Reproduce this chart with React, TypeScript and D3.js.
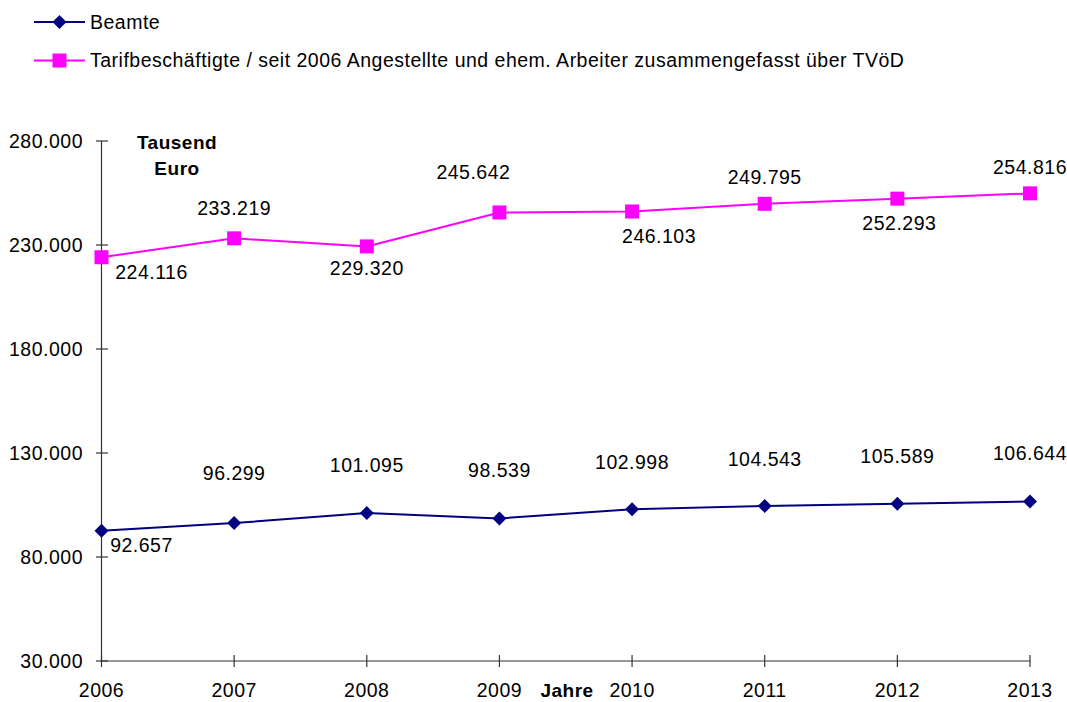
import * as d3 from 'd3'

const years = ['2006', '2007', '2008', '2009', '2010', '2011', '2012', '2013']
const beamte = [92657, 96299, 101095, 98539, 102998, 104543, 105589, 106644]
const tarif = [224116, 233219, 229320, 245642, 246103, 249795, 252293, 254816]
const yTicks = [30000, 80000, 130000, 180000, 230000, 280000]

const seriesNames = [
  'Beamte',
  'Tarifbeschäftigte / seit 2006 Angestellte und ehem. Arbeiter zusammengefasst über TVöD',
]

// label offsets (px) relative to the point, as Excel placed them
const beamteLabelOffsets: [number, number][] = [
  [40, 15], [0, -50], [0, -48], [0, -48], [0, -47], [0, -47], [0, -48], [0, -48],
]
const tarifLabelOffsets: [number, number][] = [
  [50, 15], [0, -30], [0, 22], [-26, -40], [27, 25], [0, -27], [2, 25], [0, -26],
]

const W = 1067
const H = 702
const NAVY = '#000080'
const MAGENTA = '#ff00ff'
const FONT = '"Liberation Sans", Arial, sans-serif'
const fmt = (v: number) => d3.format(',.0f')(v).replace(/,/g, '.')

export default function App() {
  const x = d3.scalePoint<string>().domain(years).range([101.5, 1030])
  const y = d3.scaleLinear().domain([30000, 280000]).range([661, 141])

  const line = d3
    .line<number>()
    .x((_, i) => x(years[i]) ?? 0)
    .y((d) => y(d))

  const diamond = (cx: number, cy: number, r = 7) =>
    `M${cx},${cy - r}L${cx + r},${cy}L${cx},${cy + r}L${cx - r},${cy}Z`

  return (
    <svg
      width={W}
      height={H}
      style={{
        position: 'absolute',
        left: 0,
        top: 0,
        background: '#fff',
        fontFamily: FONT,
        letterSpacing: '0.5px',
      }}
    >
      {/* legend */}
      <g>
        <line x1={34} x2={85} y1={22} y2={22} stroke={NAVY} strokeWidth={2} />
        <path d={diamond(59.5, 22)} fill={NAVY} />
        <text x={90} y={22} dy="0.35em" fontSize={19.5}>{seriesNames[0]}</text>
        <line x1={34} x2={85} y1={60.5} y2={60.5} stroke={MAGENTA} strokeWidth={2} />
        <rect x={52.5} y={53.5} width={14} height={14} fill={MAGENTA} />
        <text x={90} y={60.5} dy="0.35em" fontSize={19.5}>{seriesNames[1]}</text>
      </g>

      {/* y axis */}
      <line x1={x(years[0])} x2={x(years[0])} y1={y(280000)} y2={y(30000)} stroke="#333" strokeWidth={1.2} />
      {yTicks.map((t) => (
        <g key={t}>
          <line x1={96} x2={108} y1={y(t)} y2={y(t)} stroke="#333" strokeWidth={1.2} />
          <text x={83} y={y(t)} dy="0.35em" textAnchor="end" fontSize={19.5}>
            {fmt(t)}
          </text>
        </g>
      ))}

      {/* x axis */}
      <line x1={x(years[0])} x2={x(years[years.length - 1])} y1={y(30000)} y2={y(30000)} stroke="#333" strokeWidth={1.2} />
      {years.map((yr) => (
        <g key={yr}>
          <line x1={x(yr)} x2={x(yr)} y1={y(30000) - 6} y2={y(30000) + 6} stroke="#333" strokeWidth={1.2} />
          <text x={x(yr)} y={690} dy="0.35em" textAnchor="middle" fontSize={19.5}>
            {yr}
          </text>
        </g>
      ))}

      {/* axis titles */}
      <text x={177} y={142} dy="0.35em" textAnchor="middle" fontSize={19} fontWeight="bold">Tausend</text>
      <text x={177} y={168} dy="0.35em" textAnchor="middle" fontSize={19} fontWeight="bold">Euro</text>
      <text x={567} y={690} dy="0.35em" textAnchor="middle" fontSize={19} fontWeight="bold">Jahre</text>

      {/* Tarifbeschäftigte */}
      <path d={line(tarif) ?? ''} fill="none" stroke={MAGENTA} strokeWidth={2} />
      {tarif.map((v, i) => (
        <rect key={i} x={(x(years[i]) ?? 0) - 7} y={y(v) - 7} width={14} height={14} fill={MAGENTA} />
      ))}
      {tarif.map((v, i) => (
        <text
          key={i}
          x={(x(years[i]) ?? 0) + tarifLabelOffsets[i][0]}
          y={y(v) + tarifLabelOffsets[i][1]}
          dy="0.35em"
          textAnchor="middle"
          fontSize={19.5}
        >
          {fmt(v)}
        </text>
      ))}

      {/* Beamte */}
      <path d={line(beamte) ?? ''} fill="none" stroke={NAVY} strokeWidth={2} />
      {beamte.map((v, i) => (
        <path key={i} d={diamond(x(years[i]) ?? 0, y(v))} fill={NAVY} />
      ))}
      {beamte.map((v, i) => (
        <text
          key={i}
          x={(x(years[i]) ?? 0) + beamteLabelOffsets[i][0]}
          y={y(v) + beamteLabelOffsets[i][1]}
          dy="0.35em"
          textAnchor="middle"
          fontSize={19.5}
        >
          {fmt(v)}
        </text>
      ))}
    </svg>
  )
}
